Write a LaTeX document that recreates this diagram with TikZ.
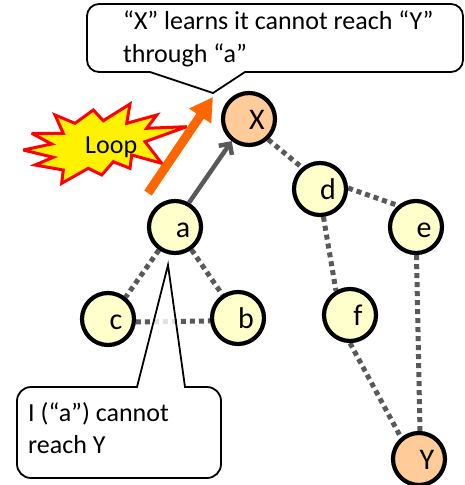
\documentclass[tikz,border=0pt]{standalone}
\usepackage{fontspec}
\setmainfont{Carlito}
\usetikzlibrary{arrows.meta}
\definecolor{nodeyellow}{RGB}{255,255,204}
\definecolor{nodepeach}{RGB}{255,204,153}
\definecolor{linkgray}{RGB}{89,89,89}
\definecolor{hotorange}{RGB}{255,102,0}
\pgfdeclarelayer{background}
\pgfsetlayers{background,main}
\begin{document}
\begin{tikzpicture}[x=1pt,y=1pt,
  router/.style={circle,draw=black,line width=4.2pt,minimum size=52pt,inner sep=0pt,fill=nodeyellow},
  endpoint/.style={router,fill=nodepeach},
  rname/.style={font=\fontsize{30}{36}\selectfont,anchor=base,xshift=8pt,yshift=-10.5pt,inner sep=0pt},
  link/.style={draw=linkgray,line width=5pt,dash pattern=on 5pt off 4pt},
  speech/.style={draw=black,line width=1.8pt,fill=white,fill opacity=0.82,draw opacity=1},
  say/.style={font=\fontsize{26}{32}\selectfont,anchor=base west,inner sep=0pt},
]
\useasboundingbox (0,0) rectangle (465,-485);

% routers
\node[endpoint] (X) at (249,-119) {};
\node[router] (d) at (320,-189) {};
\node[router] (e) at (416,-227) {};
\node[router] (f) at (350,-315) {};
\node[endpoint] (Y) at (419,-459) {};
\node[router] (a) at (175,-227) {};
\node[router] (c) at (108,-319) {};
\node[router] (b) at (238,-318) {};

% router names
\node[rname] (Xname) at (X) {X};
\node[rname] (dname) at (d) {d};
\node[rname] (ename) at (e) {e};
\node[rname] (fname) at (f) {f};
\node[rname] (Yname) at (Y) {Y};
\node[rname] (aname) at (a) {a};
\node[rname] (cname) at (c) {c};
\node[rname] (bname) at (b) {b};

% dotted links behind the routers
\begin{pgfonlayer}{background}
  \draw[link] (X.-47) -- (d.130);
  \draw[link] (d.2) -- (e.130);
  \draw[link] (d.-83) -- (f.120);
  \draw[link] (e.-89) -- (Y.88);
  \draw[link] (f.-90) -- (Y.130);
  \draw[link] (a.-125) -- (c.51);
  \draw[link] (a.-54) -- (b.124);
  \draw[link] (c.-6) -- (b.186);
\end{pgfonlayer}

% route advertised from a back to X
\draw[draw=linkgray,line width=4.5pt,-{Straight Barb[length=8pt,width=16pt]}] (a.60) -- (X.-128);

% loop burst
\draw[draw=red,fill=yellow,line width=3pt,line join=miter,miter limit=4]
  (23.3,-150) -- (51.7,-144) -- (31.7,-133.3) -- (63.3,-133.3) -- (55,-115)
  -- (75,-123.3) -- (93.3,-110) -- (103.3,-120.7) -- (130,-104) -- (126.7,-123.3)
  -- (156.7,-115) -- (146.7,-128.3) -- (186.7,-126.7) -- (145,-141.7) -- (161.7,-163.3)
  -- (131.7,-155) -- (130,-168.3) -- (113.3,-161.7) -- (101.7,-175) -- (88.3,-168.3)
  -- (61.7,-183.3) -- (63.3,-170) -- (35,-165) -- (53.3,-157.3) -- cycle;
\node[say] (loop) at (85,-153) {Loop};

% loop arrow
\coordinate (looptail) at (148,-193);
\coordinate (loophead) at (213,-97);
\draw[draw=hotorange,line width=9pt,-{Triangle[length=23pt,width=25pt]}] (looptail) -- (loophead);

% speech bubble of X
\draw[speech] (99,-4) -- (451,-4) arc[start angle=90,end angle=0,radius=12]
  -- (463,-60) arc[start angle=0,end angle=-90,radius=12]
  -- (245,-72) -- (213,-93) -- (150,-72)
  -- (99,-72) arc[start angle=270,end angle=180,radius=12]
  -- (87,-16) arc[start angle=180,end angle=90,radius=12] -- cycle;
\node[say] (xsay1) at (123,-29.5) {“X” learns it cannot reach “Y”};
\node[say] (xsay2) at (123,-62.5) {through “a”};

% speech bubble of a
\draw[speech] (31,-387) -- (137,-387) -- (168,-265) -- (185,-387)
  -- (207,-387) arc[start angle=90,end angle=0,radius=14]
  -- (221,-464) arc[start angle=0,end angle=-90,radius=14]
  -- (31,-478) arc[start angle=270,end angle=180,radius=14]
  -- (17,-401) arc[start angle=180,end angle=90,radius=14] -- cycle;
\node[say] (asay1) at (28,-421) {I (“a”) cannot};
\node[say] (asay2) at (28,-453) {reach Y};
\end{tikzpicture}
\end{document}
